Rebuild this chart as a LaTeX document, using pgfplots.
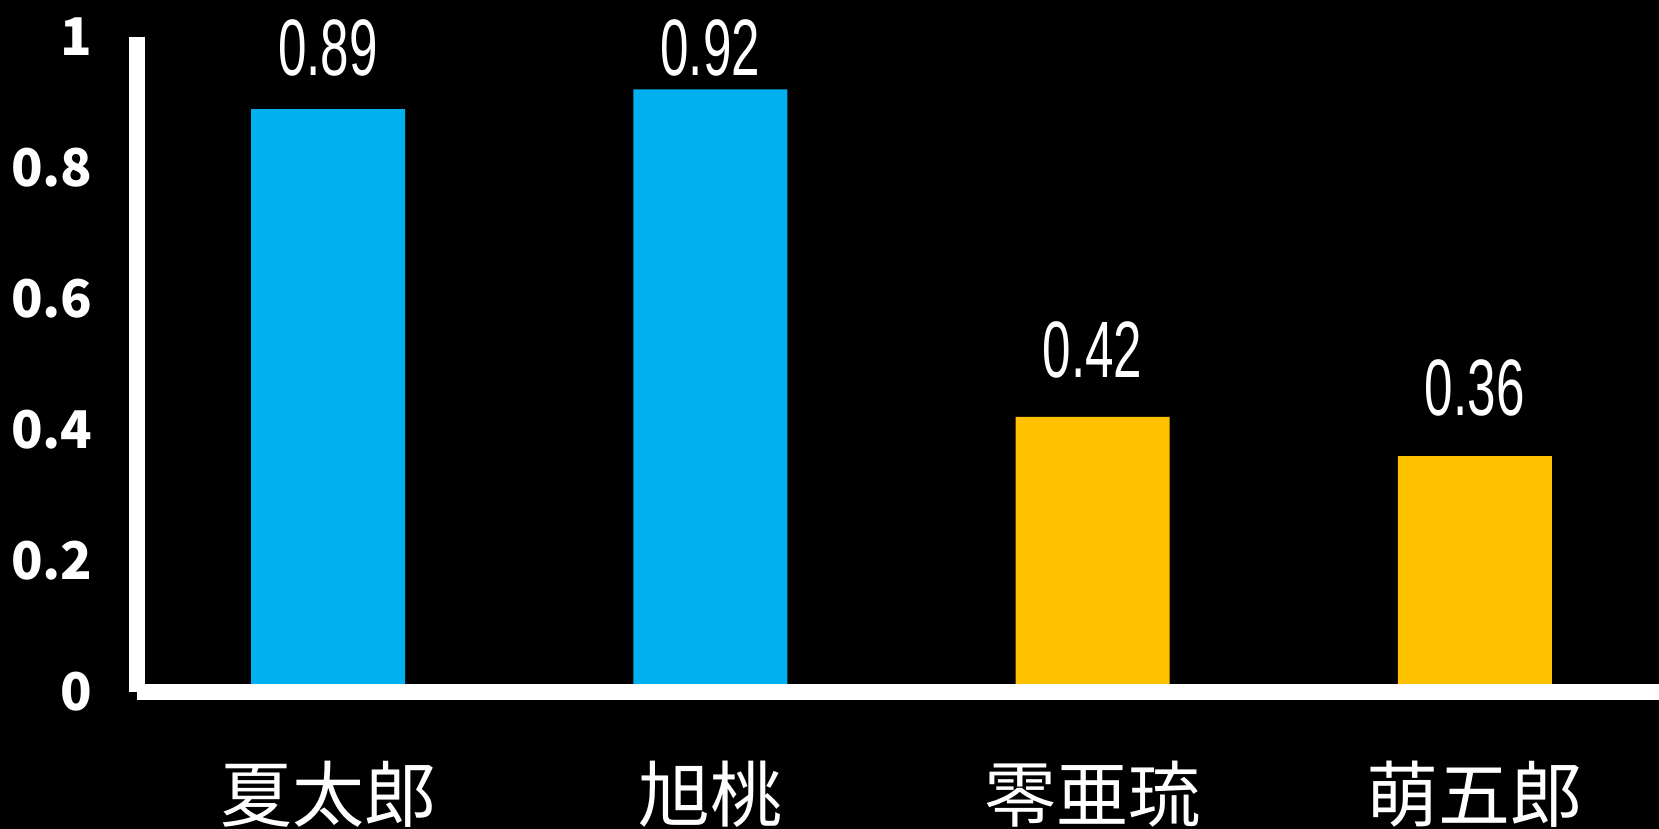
\documentclass[border=0pt]{standalone}
\usepackage{pgfplots}
\pgfplotsset{compat=1.18}
\usepackage{fontspec}
\newfontfamily\cjk{Noto Sans CJK JP}
\newfontfamily\valfont[FakeStretch=0.64]{Liberation Sans}
\definecolor{barblue}{HTML}{00B0F0}
\definecolor{baryellow}{HTML}{FFC000}
\begin{document}
\begin{tikzpicture}
\fill[black] (0,0) rectangle (829.5pt,414.5pt);
\useasboundingbox (0,0) rectangle (829.5pt,414.5pt);
\begin{axis}[
  at={(68.5pt,68.5pt)}, anchor=south west,
  scale only axis, width=761pt, height=327.5pt,
  xmin=-0.5, xmax=3.482, ymin=0, ymax=1,
  clip=false,
  axis x line=bottom, axis y line=left,
  axis line style={white, line width=8pt, -},
  axis on top,
  xtick={0,1,2,3}, xticklabels={夏太郎,旭桃,零亜琉,萌五郎},
  ytick={0,0.2,0.4,0.6,0.8,1}, yticklabels={0,0.2,0.4,0.6,0.8,1},
  major tick length=0pt,
  xticklabel style={font=\cjk\fontsize{36}{40}\selectfont, text=white, anchor=base, inner sep=0pt, yshift=-65pt},
  yticklabel style={font=\cjk\bfseries\fontsize{26}{30}\selectfont, text=white, anchor=east, inner sep=0pt, xshift=-22pt},
]
\addplot[ybar, bar width=77pt, bar shift=0pt, fill=barblue, draw=none] coordinates {(0,0.89) (1,0.92)};
\addplot[ybar, bar width=77pt, bar shift=0pt, fill=baryellow, draw=none] coordinates {(2,0.42) (3,0.36)};
\addplot[draw=none, mark=none, nodes near coords, point meta=explicit symbolic,
  nodes near coords style={anchor=south, inner sep=0pt, font=\valfont\fontsize{40}{44}\selectfont, text=white}]
  coordinates {(0,0.940)[0.89] (1,0.940)[0.92] (2,0.478)[0.42] (3,0.420)[0.36]};
\end{axis}
\end{tikzpicture}
\end{document}
